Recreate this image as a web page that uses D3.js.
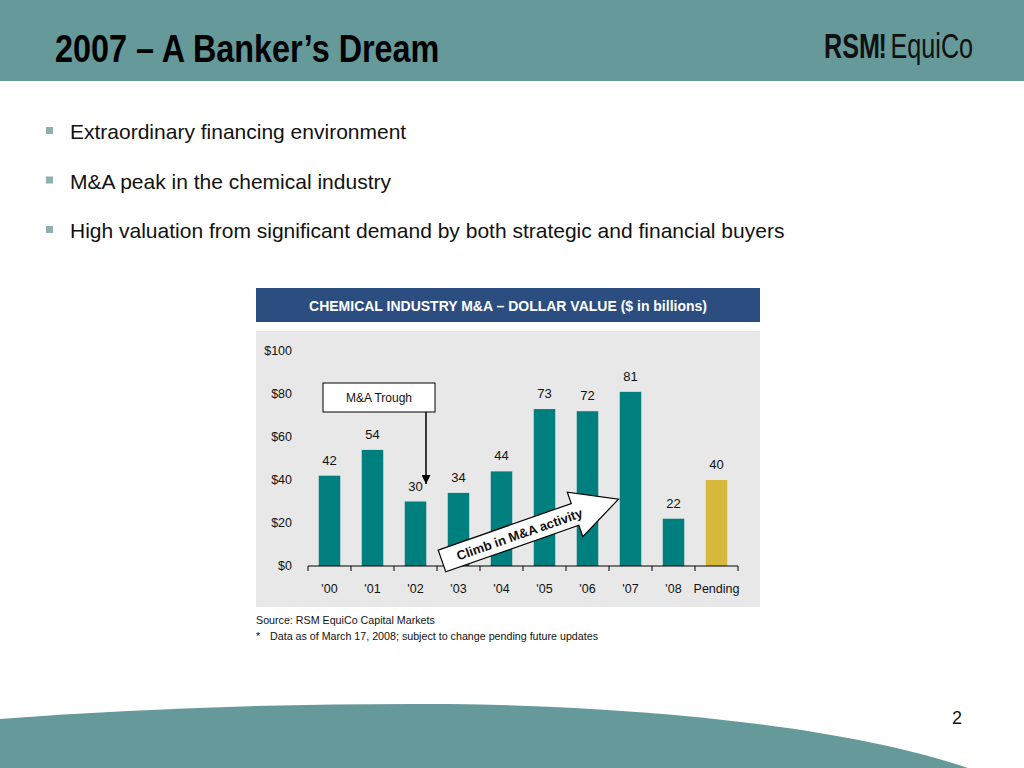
<html>
<head>
<script src="https://cdn.jsdelivr.net/npm/d3@7"></script>
<style>
  body { margin: 0; background: #fff; }
  text { font-family: "Liberation Sans", Arial, sans-serif; }
</style>
</head>
<body>
<svg id="slide" width="1024" height="768"></svg>
<script>
// chart data
var years = ["'00", "'01", "'02", "'03", "'04", "'05", "'06", "'07", "'08", "Pending"];
var values = [42, 54, 30, 34, 44, 73, 72, 81, 22, 40];
var yTicks = [0, 20, 40, 60, 80, 100];
var bullets = [
    "Extraordinary financing environment",
    "M&A peak in the chemical industry",
    "High valuation from significant demand by both strategic and financial buyers"
];

var teal = "#669999";
var svg = d3.select("#slide");

// header band
svg.append("rect").attr("x", 0).attr("y", 0).attr("width", 1024).attr("height", 81).attr("fill", teal);
// no narrow font installed, so squeeze it
svg.append("text")
    .attr("transform", "translate(55,62) scale(0.83,1)")
    .style("font-weight", "bold").style("font-size", "39px").attr("fill", "#000")
    .text("2007 \u2013 A Banker\u2019s Dream");

var logo = svg.append("text")
    .attr("transform", "translate(824,58) scale(0.7,1)")
    .style("font-size", "36px").attr("fill", "#111");
logo.append("tspan").style("font-weight", "bold").text("RSM");
logo.append("tspan").style("font-weight", "bold").attr("dx", -2).text("!");
logo.append("tspan").attr("dx", 5).text("EquiCo");

// bullets
bullets.forEach(function (b, i) {
    var y = 139 + i * 49.5;
    svg.append("rect").attr("x", 46).attr("y", y - 12).attr("width", 7).attr("height", 7).attr("fill", "#8fb0ae");
    svg.append("text").attr("x", 70).attr("y", y).style("font-size", "21px").attr("fill", "#111").text(b);
});

// chart header
svg.append("rect").attr("x", 256).attr("y", 288).attr("width", 504).attr("height", 34).attr("fill", "#2b4d7f");
svg.append("text").attr("x", 508).attr("y", 311).attr("text-anchor", "middle")
    .attr("fill", "#fff").style("font-weight", "bold").style("font-size", "14px")
    .text("CHEMICAL INDUSTRY M&A \u2013 DOLLAR VALUE ($ in billions)");

// chart panel
svg.append("rect").attr("x", 256).attr("y", 331).attr("width", 504).attr("height", 276).attr("fill", "#e8e8e8");

var x = d3.scaleBand().domain(years).range([308, 738]).paddingInner(0.5).paddingOuter(0.25);
var y = d3.scaleLinear().domain([0, 100]).range([566, 351]);

// y labels
svg.selectAll(".ylab").data(yTicks).enter().append("text")
    .attr("class", "ylab")
    .attr("x", 292).attr("y", function (d) { return y(d) + 4; })
    .attr("text-anchor", "end").style("font-size", "12.5px").attr("fill", "#111")
    .text(function (d) { return "$" + d; });

// bars
svg.selectAll(".bar").data(values).enter().append("rect")
    .attr("class", "bar")
    .attr("x", function (d, i) { return x(years[i]); })
    .attr("y", function (d) { return y(d); })
    .attr("width", x.bandwidth())
    .attr("height", function (d) { return y(0) - y(d); })
    .attr("fill", function (d, i) { return years[i] == "Pending" ? "#d6b93a" : "#007f7f"; });

// value labels
svg.selectAll(".vlab").data(values).enter().append("text")
    .attr("class", "vlab")
    .attr("x", function (d, i) { return x(years[i]) + x.bandwidth() / 2; })
    .attr("y", function (d) { return y(d) - 11; })
    .attr("text-anchor", "middle").style("font-size", "13px").attr("fill", "#111")
    .text(function (d) { return d; });

// x axis
var step = x.step();
svg.append("line").attr("x1", 308).attr("x2", 738).attr("y1", 566).attr("y2", 566).attr("stroke", "#000").attr("stroke-width", 1.2);
svg.selectAll(".tick").data(d3.range(years.length + 1)).enter().append("line")
    .attr("x1", function (i) { return 308 + i * step; })
    .attr("x2", function (i) { return 308 + i * step; })
    .attr("y1", 566).attr("y2", 571).attr("stroke", "#000");
svg.selectAll(".xlab").data(years).enter().append("text")
    .attr("x", function (d) { return x(d) + x.bandwidth() / 2; })
    .attr("y", 593).attr("text-anchor", "middle").style("font-size", "12.5px").attr("fill", "#111")
    .text(function (d) { return d; });

// M&A trough callout
svg.append("defs").append("marker").attr("id", "ah")
    .attr("viewBox", "0 0 10 10").attr("refX", 10).attr("refY", 5)
    .attr("markerWidth", 6).attr("markerHeight", 6).attr("orient", "auto")
    .append("path").attr("d", "M0,0L10,5L0,10Z").attr("fill", "#000");
svg.append("line").attr("x1", 426).attr("y1", 412).attr("x2", 426).attr("y2", 484)
    .attr("stroke", "#000").attr("stroke-width", 1.5).attr("marker-end", "url(#ah)");
svg.append("rect").attr("x", 323).attr("y", 383).attr("width", 112).attr("height", 29)
    .attr("fill", "#fff").attr("stroke", "#000").attr("stroke-width", 1);
svg.append("text").attr("x", 379).attr("y", 402).attr("text-anchor", "middle")
    .style("font-size", "12px").attr("fill", "#111").text("M&A Trough");

// climb arrow
var climb = svg.append("g").attr("transform", "translate(442,561) rotate(-19.3)");
climb.append("path")
    .attr("d", "M0,-11.5L141,-11.5L141,-23.5L187,0L141,23.5L141,11.5L0,11.5Z")
    .attr("fill", "#fff").attr("stroke", "#000").attr("stroke-width", 1.2);
climb.append("text").attr("x", 82).attr("y", 5).attr("text-anchor", "middle")
    .style("font-weight", "bold").style("font-size", "13px").attr("fill", "#111")
    .text("Climb in M&A activity");

// notes
svg.append("text").attr("x", 256).attr("y", 624).style("font-size", "10.7px").attr("fill", "#111")
    .text("Source: RSM EquiCo Capital Markets");
svg.append("text").attr("x", 256).attr("y", 640).style("font-size", "10.7px").attr("fill", "#111").text("*");
svg.append("text").attr("x", 270).attr("y", 640).style("font-size", "10.7px").attr("fill", "#111")
    .text("Data as of March 17, 2008; subject to change pending future updates");

// bottom swoosh
svg.append("path")
    .attr("d", "M0,719C150,708 300,703 450,704C650,706 850,728 968,768L0,768Z")
    .attr("fill", teal);
svg.append("text").attr("x", 957).attr("y", 724).attr("text-anchor", "middle")
    .style("font-size", "18px").attr("fill", "#111").text("2");
</script>
</body>
</html>
